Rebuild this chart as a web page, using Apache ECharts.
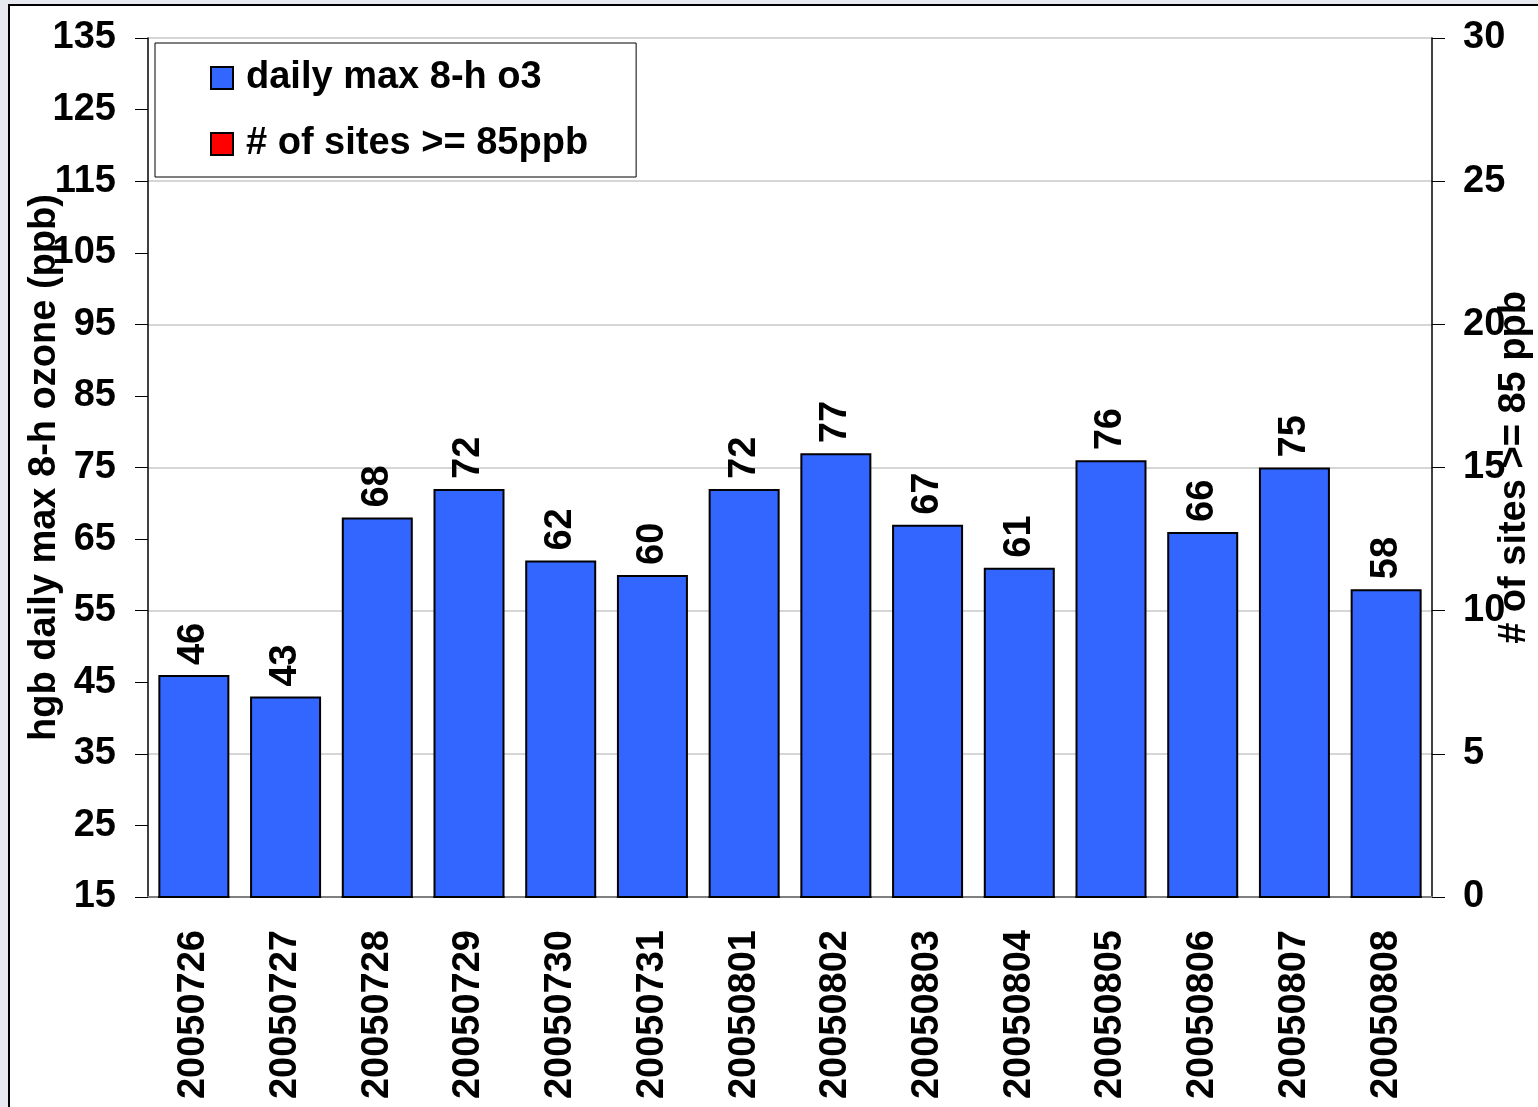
<!DOCTYPE html>
<html>
<head>
<meta charset="utf-8">
<script src="https://cdn.jsdelivr.net/npm/echarts@6/dist/echarts.min.js"></script>
<style>
html,body{margin:0;padding:0;background:#e6e9f0;overflow:hidden;}
#c{width:1538px;height:1107px;}
</style>
</head>
<body>
<div id="c"></div>
<script>
const categories = ['20050726','20050727','20050728','20050729','20050730','20050731','20050801','20050802','20050803','20050804','20050805','20050806','20050807','20050808'];
const ozoneValues = [46,43,68,72,62,60,72,77,67,61,76,66,75,58];
const sitesValues = [0,0,0,0,0,0,0,0,0,0,0,0,0,0];
const leftTicks = [15,25,35,45,55,65,75,85,95,105,115,125,135];
const rightTicks = [0,5,10,15,20,25,30];

const FONT = '"Liberation Sans", Arial, sans-serif';
const chart = echarts.init(document.getElementById('c'), null, {renderer:'canvas'});
const txt = {fontFamily: FONT, fontWeight: 'bold', fontSize: 38, color: '#000'};

chart.setOption({
  backgroundColor: 'transparent',
  animation: false,
  textStyle: {fontFamily: FONT},
  graphic: [{
    type: 'rect', z: -10, silent: true,
    shape: {x: 9, y: 5, width: 1700, height: 1300},
    style: {fill: '#fff', stroke: '#000', lineWidth: 2}
  }],
  grid: {left: 148, right: 106, top: 38, bottom: 210, containLabel: false, outerBoundsMode: 'none'},
  legend: {
    left: 155, top: 43, orient: 'vertical',
    padding: [16, 48, 14, 55],
    itemWidth: 22, itemHeight: 22, itemGap: 28,
    borderColor: '#000', borderWidth: 1, backgroundColor: '#fff',
    icon: 'rect',
    textStyle: Object.assign({}, txt, {lineHeight: 38, padding: [0, 0, 0, 8]}),
    data: ['daily max 8-h o3', '# of sites >= 85ppb']
  },
  xAxis: {
    type: 'category', data: categories,
    axisLine: {lineStyle: {color: '#808080', width: 2}},
    axisTick: {inside: true, length: 12, lineStyle: {color: '#000', width: 1}},
    axisLabel: Object.assign({}, txt, {rotate: 90, margin: 33, interval: 0})
  },
  yAxis: [{
    type: 'value', min: 15, max: 135, position: 'left',
    name: 'hgb daily max 8-h ozone (ppb)', nameLocation: 'middle', nameRotate: 90, nameGap: 84,
    nameMoveOverlap: false,
    nameTextStyle: txt,
    axisLine: {show: true, lineStyle: {color: '#000', width: 1.5}},
    axisTick: {show: true, length: 13, customValues: leftTicks, lineStyle: {color: '#000'}},
    axisLabel: Object.assign({}, txt, {margin: 32, customValues: leftTicks}),
    splitLine: {show: false}
  }, {
    type: 'value', min: 0, max: 30, interval: 2.5, position: 'right',
    name: '# of sites >= 85 ppb', nameLocation: 'middle', nameRotate: 90, nameGap: 64,
    nameMoveOverlap: false,
    nameTextStyle: txt,
    axisLine: {show: true, lineStyle: {color: '#000', width: 1.5}},
    axisTick: {show: true, length: 13, customValues: rightTicks, lineStyle: {color: '#000'}},
    axisLabel: Object.assign({}, txt, {margin: 31, customValues: rightTicks}),
    splitLine: {show: true, lineStyle: {color: '#c8c8c8', width: 1.5}}
  }],
  series: [{
    name: 'daily max 8-h o3', type: 'bar', yAxisIndex: 0,
    data: ozoneValues, barWidth: 71, barGap: '-100%',
    itemStyle: {color: '#3366ff', borderColor: '#000', borderWidth: 2},
    label: Object.assign({}, txt, {show: true, position: 'top', rotate: 90, distance: 10, align: 'left', verticalAlign: 'middle'})
  }, {
    name: '# of sites >= 85ppb', type: 'bar', yAxisIndex: 1,
    data: sitesValues, barWidth: 71, barGap: '-100%',
    itemStyle: {color: '#ff0000', borderColor: '#000', borderWidth: 2}
  }]
});
</script>
</body>
</html>
